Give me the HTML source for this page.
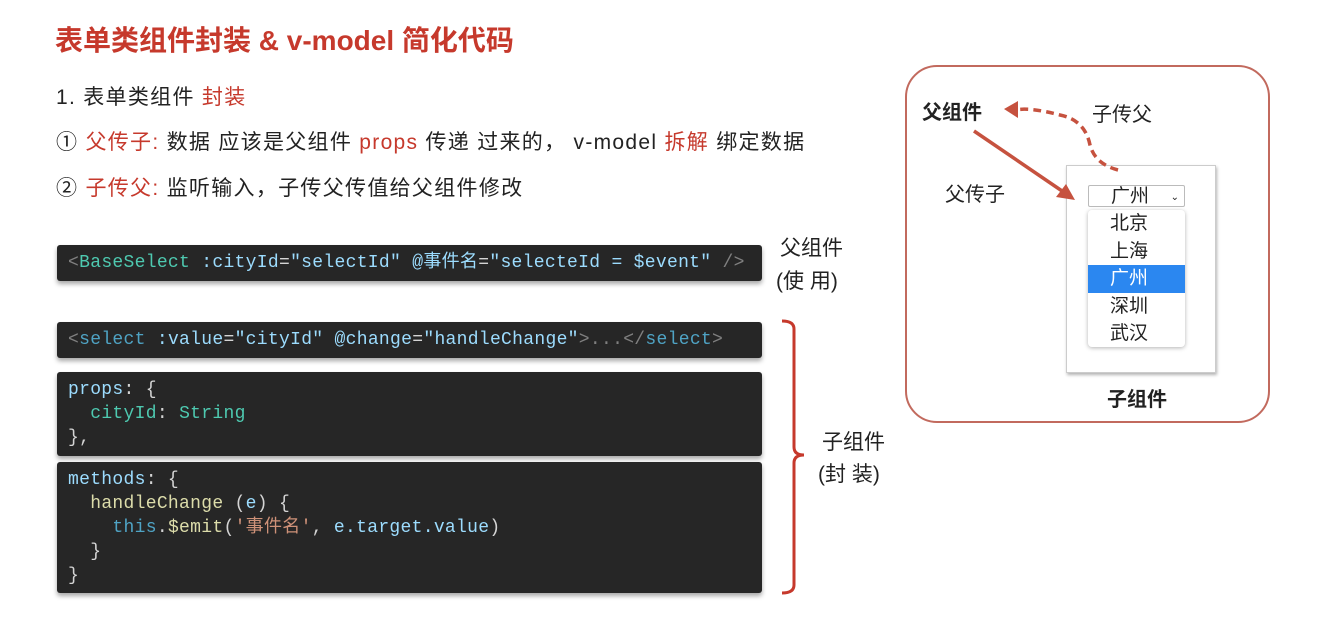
<!DOCTYPE html>
<html><head><meta charset="utf-8"><style>
body{margin:0;width:1319px;height:619px;background:#fff;position:relative;overflow:hidden;font-family:"Liberation Sans","Noto Sans CJK SC",sans-serif;color:#222}
.a{position:absolute;white-space:nowrap}
.r{color:#c6392c}
.l{font-size:21px;letter-spacing:1.3px}
.code{position:absolute;left:57px;width:705px;background:#262626;border-radius:3px;box-shadow:0 3px 5px rgba(0,0,0,.35);font-family:"Liberation Mono","Noto Sans CJK SC",monospace;font-size:18px;letter-spacing:0.3px;color:#d4d4d4;box-sizing:border-box;padding-left:11px;white-space:pre}
.t{color:#4fa3c4}.s{color:#9cdcfe}.g{color:#4ec9b0}.y{color:#dcdcaa}.o{color:#ce9178}.gr{color:#808080}
</style></head><body>
<div class="a r" style="left:55px;top:19px;font-size:28px;font-weight:bold">表单类组件封装 &amp; v-model 简化代码</div>
<div class="a l" style="left:56px;top:81px">1. 表单类组件 <span class="r">封装</span></div>
<div class="a l" style="left:56px;top:126px">① <span class="r">父传子:</span> 数据 应该是父组件 <span class="r">props</span> 传递 过来的， v-model <span class="r">拆解</span> 绑定数据</div>
<div class="a l" style="left:56px;top:172px">② <span class="r">子传父:</span> 监听输入，子传父传值给父组件修改</div>

<div class="code" style="top:245px;height:36px;line-height:36px"><span class="gr">&lt;</span><span class="g">BaseSelect</span> <span class="s">:cityId</span>=<span class="s">"selectId"</span> <span class="s">@事件名</span>=<span class="s">"selecteId = $event"</span> <span class="gr">/&gt;</span></div>
<div class="a" style="left:780px;top:232px;font-size:21px">父组件</div>
<div class="a" style="left:776px;top:265px;font-size:21px">(使 用)</div>

<div class="code" style="top:322px;height:36px;line-height:36px"><span class="gr">&lt;</span><span class="t">select</span> <span class="s">:value</span>=<span class="s">"cityId"</span> <span class="s">@change</span>=<span class="s">"handleChange"</span><span class="gr">&gt;...&lt;/</span><span class="t">select</span><span class="gr">&gt;</span></div>
<div class="code" style="top:372px;height:84px;padding-top:6px;line-height:24px"><span class="s">props</span>: {
  <span class="g">cityId</span>: <span class="g">String</span>
},</div>
<div class="code" style="top:462px;height:131px;padding-top:6px;line-height:24px"><span class="s">methods</span>: {
  <span class="y">handleChange</span> (<span class="s">e</span>) {
    <span class="t">this</span>.<span class="y">$emit</span>(<span class="o">'事件名'</span>, <span class="s">e.target.value</span>)
  }
}</div>
<svg class="a" style="left:770px;top:315px" width="40" height="285"><path d="M12 6 Q24 6 24 14 L24 132 Q24 140 34 140 Q24 140 24 148 L24 270 Q24 278 12 278" fill="none" stroke="#c6392c" stroke-width="3"/></svg>
<div class="a" style="left:822px;top:426px;font-size:21px">子组件</div>
<div class="a" style="left:818px;top:458px;font-size:21px">(封 装)</div>

<div class="a" style="left:905px;top:65px;width:361px;height:354px;border:2.5px solid #c26a5e;border-radius:32px"></div>
<div class="a" style="left:1066px;top:165px;width:148px;height:206px;border:1px solid #ccc;box-shadow:1px 2px 3px rgba(0,0,0,.3);background:#fff"></div>
<div class="a" style="left:1088px;top:185px;width:97px;height:22px;border:1px solid #bbb;border-radius:2px;font-size:19px;line-height:22px;box-sizing:border-box"><span style="position:absolute;left:22px">广州</span><span style="position:absolute;right:5px;font-size:10px;top:1px">⌄</span></div>
<div class="a" style="left:1088px;top:210px;width:97px;height:137px;border-radius:4px;box-shadow:0 1px 4px rgba(0,0,0,.3);background:#fff;font-size:19px;line-height:27.5px">
<div style="padding-left:22px">北京</div><div style="padding-left:22px">上海</div><div style="padding-left:22px;background:#2b87f0;color:#fff">广州</div><div style="padding-left:22px">深圳</div><div style="padding-left:22px">武汉</div></div>
<div class="a" style="left:922px;top:96px;font-size:20px;font-weight:bold">父组件</div>
<div class="a" style="left:1092px;top:98px;font-size:20px">子传父</div>
<div class="a" style="left:945px;top:178px;font-size:20px">父传子</div>
<div class="a" style="left:1107px;top:383px;font-size:20px;font-weight:bold">子组件</div>
<svg class="a" style="left:900px;top:60px" width="380" height="370">
<line x1="74" y1="71" x2="165" y2="133" stroke="#c6523f" stroke-width="3.5"/>
<polygon points="175,140 156,137 166,124" fill="#c6523f"/>
<path d="M218 110 Q195 104 190 85 Q185 60 160 55 Q130 47 115 50" fill="none" stroke="#c6523f" stroke-width="3.5" stroke-dasharray="8,5"/>
<polygon points="104,49 118,41 118,58" fill="#c6523f"/>
</svg>
</body></html>
